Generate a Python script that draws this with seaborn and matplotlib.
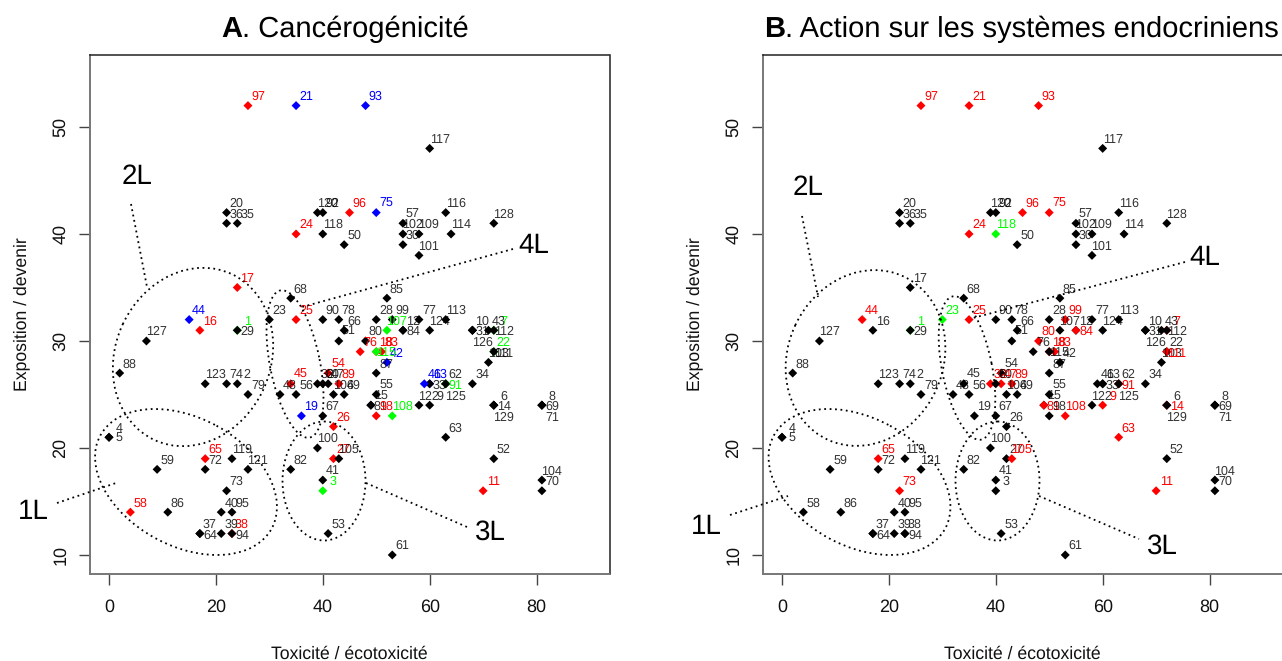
import matplotlib
matplotlib.use("Agg")
import matplotlib.pyplot as plt
import pandas as pd
import seaborn as sns
from matplotlib.lines import Line2D
from matplotlib.patches import Ellipse
from matplotlib.transforms import Affine2D

# Numéro des substances et coordonnées
ids = [1, 2, 3, 4, 5, 6, 7, 8, 9, 10, 11, 12, 13, 14, 15, 16, 17, 18, 19, 20,
       21, 22, 23, 24, 25, 26, 27, 28, 29, 30, 31, 32, 33, 34, 35, 36, 37, 38, 39, 40,
       41, 42, 43, 44, 45, 46, 47, 48, 49, 50, 51, 52, 53, 54, 55, 56, 57, 58, 59, 60,
       61, 62, 63, 64, 65, 66, 67, 68, 69, 70, 71, 72, 73, 74, 75, 76, 77, 78, 79, 80,
       81, 82, 83, 84, 85, 86, 87, 88, 89, 90, 91, 92, 93, 94, 95, 96, 97, 98, 99, 100,
       101, 102, 103, 104, 105, 106, 107, 108, 109, 111, 112, 113, 114, 115, 116, 117, 118, 119, 120,
       121, 122, 123, 124, 125, 126, 127, 128, 129]
toxicite = [24, 24, 40, 0, 0, 72, 72, 81, 60, 68, 70, 55, 60, 72, 49, 17, 24, 50, 36, 22,
            35, 72, 30, 35, 35, 42, 42, 50, 24, 55, 68, 39, 60, 68, 24, 22, 17, 23, 21, 21,
            40, 52, 71, 15, 34, 59, 41, 32, 44, 44, 43, 72, 41, 41, 50, 35, 55, 4, 9, 40,
            53, 63, 63, 17, 18, 44, 40, 34, 81, 81, 81, 18, 22, 22, 50, 47, 58, 43, 26, 48,
            49, 34, 51, 55, 52, 11, 50, 2, 43, 40, 63, 40, 48, 23, 23, 45, 26, 50, 53, 39,
            58, 55, 71, 81, 43, 42, 52, 53, 58, 72, 72, 63, 64, 50, 63, 60, 40, 23, 39,
            26, 58, 18, 60, 63, 68, 7, 72, 72]
exposition = [31, 26, 16, 21, 21, 24, 31, 24, 24, 31, 16, 31, 26, 24, 24, 31, 35, 29, 23, 42,
              52, 29, 32, 40, 32, 22, 19, 32, 31, 39, 31, 26, 26, 26, 41, 41, 12, 12, 12, 14,
              17, 28, 31, 32, 26, 26, 26, 25, 25, 39, 30, 19, 12, 27, 25, 25, 41, 14, 18, 26,
              10, 26, 21, 12, 19, 31, 23, 34, 24, 16, 24, 18, 16, 26, 42, 29, 32, 32, 25, 30,
              24, 18, 29, 31, 34, 14, 27, 27, 26, 32, 26, 42, 52, 12, 14, 42, 52, 23, 32, 20,
              38, 40, 28, 17, 19, 25, 31, 23, 40, 29, 31, 32, 40, 29, 42, 48, 40, 19, 42,
              18, 24, 26, 31, 26, 31, 30, 41, 24]

# Substances en couleur dans chaque panneau
rouge_a = [97, 17, 16, 24, 96, 25, 45, 89, 54, 76, 83, 18, 26, 27, 65, 58, 38, 11, 98]
bleu_a = [21, 93, 75, 44, 19, 46, 13, 42]
vert_a = [1, 107, 7, 22, 115, 3, 108, 91]
rouge_b = [97, 21, 93, 96, 75, 24, 44, 25, 99, 80, 84, 7, 83, 18, 32, 47, 89, 111,
           81, 108, 91, 9, 14, 63, 11, 105, 65, 73]
bleu_b = []
vert_b = [118, 23, 1]

x_ticks = [0, 20, 40, 60, 80]
y_ticks = [10, 20, 30, 40, 50]

W, H = 1282, 661
COULEURS = {"noir": "#000000", "rouge": "#ff0000", "bleu": "#0000ff", "vert": "#00ff00"}

# Annotations en pixels de l'image (origine en haut à gauche)
ellipses_a = [(193, 357, 183, 155, -65), (186, 482, 195, 128, 28.5),
              (324, 481, 83, 119, 0), (295, 364, 150, 50, 78.8)]
traits_a = [((131, 204), (147, 287)), ((57, 503), (116, 483)),
            ((366, 483), (467, 527)), ((513, 249), (302, 307))]
noms_a = [("2L", 137, 177), ("1L", 33, 512), ("3L", 490, 532), ("4L", 534, 246)]

ellipses_b = [(865.5, 358, 180, 155, -65), (859.5, 482, 195, 128, 28.5),
              (997.5, 481, 84, 119, 0), (967, 368, 146, 50, 78.8)]
traits_b = [((802, 216), (818, 297)), ((730, 515), (788, 496)),
            ((1039, 496), (1139, 539)), ((1185, 262), (973, 318))]
noms_b = [("2L", 808, 188), ("1L", 706, 527), ("3L", 1162, 546), ("4L", 1205, 258)]

sns.set_theme(style="ticks")
plt.rcParams["font.family"] = ["Liberation Sans", "DejaVu Sans"]
plt.rcParams["text.hinting"] = "none"
plt.rcParams["text.color"] = "#111111"
plt.rcParams["axes.labelcolor"] = "#111111"
plt.rcParams["xtick.labelcolor"] = "#111111"
plt.rcParams["ytick.labelcolor"] = "#111111"

fig = plt.figure(figsize=(W / 100, H / 100), dpi=100)
px = Affine2D().scale(1, -1).translate(0, H)

df = pd.DataFrame({"id": ids, "x": toxicite, "y": exposition})
# Les numéros d'un même point sont empilés vers le bas
df["rang"] = df.groupby(["x", "y"]).cumcount()


def couleur(i, rouge, bleu, vert):
    if i in rouge:
        return "rouge"
    if i in bleu:
        return "bleu"
    if i in vert:
        return "vert"
    return "noir"


def panneau(gauche, rouge, bleu, vert, ellipses, traits, noms):
    ax = fig.add_axes([gauche / W, 1 - 574 / H, 520 / W, 519 / H])
    data = df.copy()
    data["groupe"] = [couleur(i, rouge, bleu, vert) for i in data["id"]]
    sns.scatterplot(data=data, x="x", y="y", hue="groupe", palette=COULEURS, marker="D",
                    s=21, linewidth=0, legend=False, ax=ax, zorder=3)
    for _, row in data.iterrows():
        ax.text(row["x"] + 1.87, row["y"] + 0.84 - row["rang"], str(row["id"]),
                color=COULEURS[row["groupe"]], fontsize=9, ha="center", va="center",
                alpha=0.8 if row["groupe"] == "noir" else 1, zorder=4)

    ax.set_xlim(-3.65, 93.65)
    ax.set_ylim(8.22, 56.73)
    ax.set_xticks(x_ticks)
    ax.set_yticks(y_ticks)
    ax.tick_params(axis="x", length=7.7, width=1, color="#444444", pad=10, labelsize=13)
    ax.tick_params(axis="y", length=7.7, width=1, color="#444444", pad=7, labelsize=13)
    plt.setp(ax.get_yticklabels(), rotation=90, va="center")
    for cote in ["left", "bottom"]:
        ax.spines[cote].set_color("#777777")
        ax.spines[cote].set_linewidth(1.4)
    for cote in ["top", "right"]:
        ax.spines[cote].set_visible(True)
        ax.spines[cote].set_color("#222222")
        ax.spines[cote].set_linewidth(1.1)

    ax.set_xlabel("Toxicité / écotoxicité", fontsize=12.7, va="baseline")
    ax.set_ylabel("Exposition / devenir", fontsize=12.7, va="center")
    ax.xaxis.set_label_coords(0.5, (574 - 659) / 519)
    ax.yaxis.set_label_coords(-68 / 520, 0.5)

    for cx, cy, larg, haut, angle in ellipses:
        fig.add_artist(Ellipse((cx, cy), larg, haut, angle=angle, fill=False, edgecolor="black",
                               linewidth=1.3, linestyle=(0, (1, 2)), transform=px))
    for (x0, y0), (x1, y1) in traits:
        fig.add_artist(Line2D([x0, x1], [y0, y1], color="black", linewidth=1.3,
                              linestyle=(0, (1, 2)), transform=px))
    for nom, tx, ty in noms:
        fig.text(tx, ty, nom, fontsize=20, color="black", ha="center", va="center", transform=px)


panneau(89.5, rouge_a, bleu_a, vert_a, ellipses_a, traits_a, noms_a)
panneau(762.5, rouge_b, bleu_b, vert_b, ellipses_b, traits_b, noms_b)

# Titres : lettre en gras puis texte normal
fig.text(242, 37, "A", fontsize=21, color="black", fontweight="bold", ha="right", va="baseline", transform=px)
fig.text(242, 37, ". Cancérogénicité", fontsize=21, color="black", ha="left", va="baseline", transform=px)
fig.text(785, 37, "B", fontsize=21, color="black", fontweight="bold", ha="right", va="baseline", transform=px)
fig.text(785, 37, ". Action sur les systèmes endocriniens", fontsize=21, color="black", ha="left",
         va="baseline", transform=px)

fig.savefig("out.png", dpi=100)
plt.close(fig)
